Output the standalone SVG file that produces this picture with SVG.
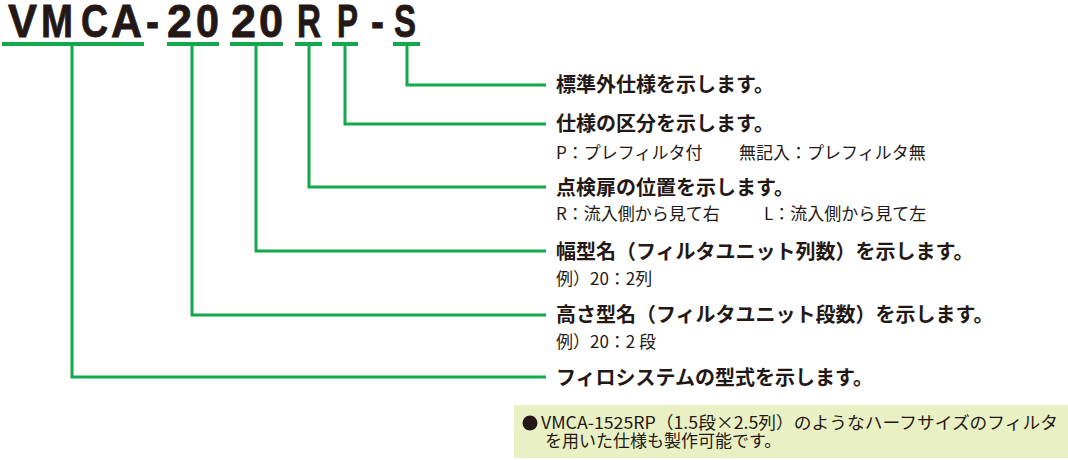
<svg xmlns="http://www.w3.org/2000/svg" width="1068" height="460" viewBox="0 0 1068 460">
<style>
.code{font-family:"Liberation Sans",Arial,sans-serif;font-weight:bold;font-size:46px;fill:#231815;stroke:#231815;stroke-width:0.8}
.ul{fill:#12a84b}
.con{fill:none;stroke:#12a84b;stroke-width:3}
.h{font-family:"Noto Sans CJK JP",sans-serif;font-weight:bold;font-size:20px;fill:#231815}
.s{font-family:"Noto Sans CJK JP",sans-serif;font-weight:400;font-size:17px;fill:#231815}
.n{font-family:"Noto Sans CJK JP",sans-serif;font-weight:400;font-size:17px;fill:#231815}
</style>
<rect width="1068" height="460" fill="#ffffff"/>
<g id="code">
<text class="code" x="8" y="37" textLength="29" lengthAdjust="spacingAndGlyphs">V</text>
<text class="code" x="41" y="37" textLength="32" lengthAdjust="spacingAndGlyphs">M</text>
<text class="code" x="81" y="37" textLength="27" lengthAdjust="spacingAndGlyphs">C</text>
<text class="code" x="111" y="37" textLength="31" lengthAdjust="spacingAndGlyphs">A</text>
<text class="code" x="146" y="37" textLength="13" lengthAdjust="spacingAndGlyphs">-</text>
<text class="code" x="167" y="37" textLength="25" lengthAdjust="spacingAndGlyphs">2</text>
<text class="code" x="196" y="37" textLength="23" lengthAdjust="spacingAndGlyphs">0</text>
<text class="code" x="231" y="37" textLength="25" lengthAdjust="spacingAndGlyphs">2</text>
<text class="code" x="259" y="37" textLength="24" lengthAdjust="spacingAndGlyphs">0</text>
<text class="code" x="297" y="37" textLength="24" lengthAdjust="spacingAndGlyphs">R</text>
<text class="code" x="337" y="37" textLength="21" lengthAdjust="spacingAndGlyphs">P</text>
<text class="code" x="371" y="37" textLength="13" lengthAdjust="spacingAndGlyphs">-</text>
<text class="code" x="394" y="37" textLength="22" lengthAdjust="spacingAndGlyphs">S</text>
<rect class="ul" x="2" y="42" width="142" height="4"/>
<rect class="ul" x="167" y="42" width="52" height="4"/>
<rect class="ul" x="230" y="42" width="53" height="4"/>
<rect class="ul" x="295" y="42" width="27" height="4"/>
<rect class="ul" x="332" y="42" width="26" height="4"/>
<rect class="ul" x="393" y="42" width="27" height="4"/>
</g>
<g id="connectors">
<polyline class="con" points="407,45 407,85 546,85"/>
<polyline class="con" points="345,45 345,124 546,124"/>
<polyline class="con" points="309,45 309,187 546,187"/>
<polyline class="con" points="256,45 256,251 546,251"/>
<polyline class="con" points="192,45 192,315 546,315"/>
<polyline class="con" points="72,45 72,377 546,377"/>
</g>
<g id="spec-s">
<text class="h" x="556" y="92">標準外仕様を示します。</text>
</g>
<g id="spec-p">
<text class="h" x="556" y="131">仕様の区分を示します。</text>
<text class="s" x="556" y="159">P：プレフィルタ付</text>
<text class="s" x="739" y="159">無記入：プレフィルタ無</text>
</g>
<g id="door-r">
<text class="h" x="556" y="195">点検扉の位置を示します。</text>
<text class="s" x="556" y="220">R：流入側から見て右</text>
<text class="s" x="764" y="220">L：流入側から見て左</text>
</g>
<g id="width-20">
<text class="h" x="556" y="259">幅型名（フィルタユニット列数）を示します。</text>
<text class="s" x="556" y="285">例）20：2列</text>
</g>
<g id="height-20">
<text class="h" x="556" y="322">高さ型名（フィルタユニット段数）を示します。</text>
<text class="s" x="556" y="348">例）20：2 段</text>
</g>
<g id="system">
<text class="h" x="556" y="385">フィロシステムの型式を示します。</text>
</g>
<g id="note">
<rect x="514" y="405" width="554" height="53" fill="#e9f0c4"/>
<circle cx="530" cy="423" r="7.5" fill="#231815"/>
<text class="n" x="541" y="429" textLength="517" lengthAdjust="spacingAndGlyphs">VMCA-1525RP（1.5段×2.5列）のようなハーフサイズのフィルタ</text>
<text class="n" x="545" y="447">を用いた仕様も製作可能です。</text>
</g>
</svg>
